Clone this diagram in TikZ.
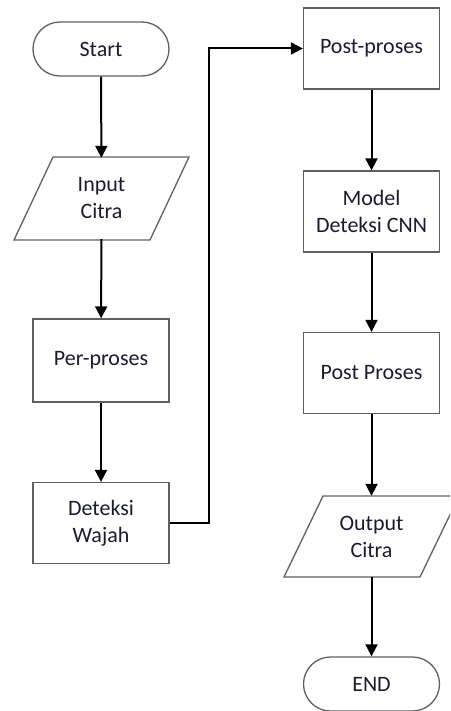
\documentclass[tikz,border=0pt]{standalone}
\usepackage{fontspec}
\setmainfont{Carlito}
\usetikzlibrary{arrows.meta}
\definecolor{edgegray}{HTML}{606060}
\definecolor{txt}{HTML}{1A1A33}
\begin{document}
\begin{tikzpicture}[x=1pt,y=-1pt,
  every node/.style={font=\fontsize{22}{27}\selectfont, text=txt, align=center, inner sep=0pt},
  procbox/.style={draw=edgegray, line width=1.3pt, minimum width=136pt, minimum height=81pt},
  termbox/.style={draw=edgegray, line width=1.3pt, minimum width=136pt, minimum height=54pt, rounded corners=27pt},
  iobox/.style={minimum width=100pt, minimum height=81pt},
  iobord/.style={draw=edgegray, line width=1.3pt, line join=miter},
  flow/.style={draw=black, line width=2pt, -{Triangle[length=12pt,width=12pt]}}]
\useasboundingbox (0,0) rectangle (450,711);
\begin{scope}
\clip (0,0) rectangle (450,711);
% left column
\node[termbox] (start) at (101,49) {Start};
\draw[iobord] (53,157) -- (189,157) -- (150,240) -- (14,240) -- cycle;
\node[iobox] (input) at (101.5,198.5) {Input\\Citra};
\node[procbox, minimum height=83pt] (pre) at (101,360.5) {Per-proses};
\node[procbox] (face) at (101,523) {Deteksi\\Wajah};
% right column
\node[procbox] (post1) at (371.5,48.5) {Post-proses};
\node[procbox] (model) at (371.5,211.5) {Model\\Deteksi CNN};
\node[procbox] (post2) at (371.5,373) {Post Proses};
\draw[iobord] (323,496) -- (459,496) -- (420,577) -- (284,577) -- cycle;
\node[iobox] (output) at (371.5,536.5) {Output\\Citra};
\node[termbox] (end) at (371.5,684) {END};
% connectors
\coordinate (c1) at (209,523);
\coordinate (c2) at (209,48.5);
\draw[flow] (start) -- (input);
\draw[flow] (input) -- (pre);
\draw[flow] (pre) -- (face);
\draw[flow] (face.east) -- (c1) -- (c2) -- (post1.west);
\draw[flow] (post1) -- (model);
\draw[flow] (model) -- (post2);
\draw[flow] (post2) -- (output);
\draw[flow] (output) -- (end);
\end{scope}
\end{tikzpicture}
\end{document}
